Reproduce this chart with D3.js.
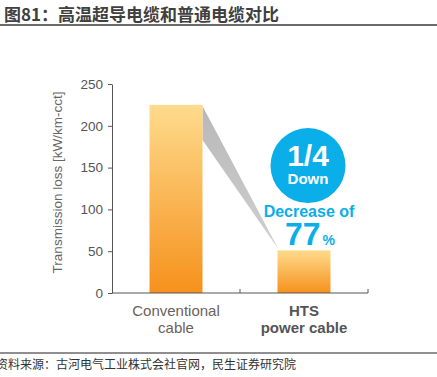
<!DOCTYPE html>
<html>
<head>
<meta charset="utf-8">
<script src="https://cdn.jsdelivr.net/npm/d3@7"></script>
<style>
  body { margin: 0; background: #fff; }
  svg { display: block; font-family: "Liberation Sans", Arial, sans-serif; }
</style>
</head>
<body>
<div id="chart"></div>
<script>
// chart data
const categories = ['Conventional\ncable', 'HTS\npower cable'];
const losses = [225, 51];
const yTicks = [0, 50, 100, 150, 200, 250];
const titleText = '图81：高温超导电缆和普通电缆对比';
const sourceText = '资料来源：古河电气工业株式会社官网，民生证券研究院';
const yLabel = 'Transmission loss [kW/km-cct]';
const ratioText = '1/4';
const downText = 'Down';
const decreaseText = 'Decrease of';
const pctValue = '77';

const width = 437, height = 377;
const margin = {top: 84, right: 69, bottom: 84, left: 112};

const svg = d3.select('#chart').append('svg')
    .attr('width', width)
    .attr('height', height);

// title + rule
svg.append('text')
    .attr('x', 4).attr('y', 21)
    .attr('font-family', '"Noto Sans CJK SC", sans-serif')
    .attr('font-size', 17).attr('font-weight', 'bold')
    .attr('fill', '#404040')
    .text(titleText);
svg.append('line')
    .attr('x1', 0).attr('x2', width).attr('y1', 25).attr('y2', 25)
    .attr('stroke', '#6a6a6a').attr('stroke-width', 2);

// footer
svg.append('line')
    .attr('x1', 0).attr('x2', width).attr('y1', 353).attr('y2', 353)
    .attr('stroke', '#6a6a6a').attr('stroke-width', 1.5);
svg.append('text')
    .attr('x', -4).attr('y', 369)
    .attr('font-family', '"Noto Sans CJK SC", sans-serif')
    .attr('font-size', 12).attr('fill', '#333')
    .text(sourceText);

const innerW = width - margin.left - margin.right;
const innerH = height - margin.top - margin.bottom;

const x = d3.scaleBand()
    .domain(categories)
    .range([0, innerW])
    .paddingInner(0.586)
    .paddingOuter(0.293);

const y = d3.scaleLinear().domain([0, 250]).range([innerH, 0]);

const g = svg.append('g')
    .attr('transform', `translate(${margin.left},${margin.top})`);

// gradient for bars
const defs = svg.append('defs');
const grad = defs.append('linearGradient')
    .attr('id', 'bar-grad')
    .attr('x1', 0).attr('y1', 0).attr('x2', 0).attr('y2', 1);
grad.append('stop').attr('offset', '0%').attr('stop-color', '#fedb8d');
grad.append('stop').attr('offset', '100%').attr('stop-color', '#f6911c');

const shadowGrad = defs.append('linearGradient')
    .attr('id', 'shadow-grad')
    .attr('x1', 0).attr('y1', 0).attr('x2', 0).attr('y2', 1);
shadowGrad.append('stop').attr('offset', '0%').attr('stop-color', '#b8b8b8');
shadowGrad.append('stop').attr('offset', '100%').attr('stop-color', '#cfcfcf');

// grey shadow connecting the two bars
const x0 = x(categories[0]) + x.bandwidth();
const x1 = x(categories[1]);
g.append('path')
    .attr('d', `M${x0},${y(losses[0]) + 1}L${x0},${y(losses[0]) + 35}L${x1 + 1},${y(losses[1]) - 1}Z`)
    .attr('fill', 'url(#shadow-grad)');

// bars
g.selectAll('.bar')
    .data(losses)
  .join('rect')
    .attr('class', 'bar')
    .attr('x', (d, i) => x(categories[i]))
    .attr('y', d => y(d))
    .attr('width', x.bandwidth())
    .attr('height', d => innerH - y(d))
    .attr('fill', 'url(#bar-grad)');

// y axis
const yAxis = g.append('g')
    .call(d3.axisLeft(y).tickValues(yTicks).tickSize(4).tickSizeOuter(0));
yAxis.select('.domain').attr('stroke', '#555');
yAxis.selectAll('.tick line').attr('stroke', '#555');
yAxis.selectAll('.tick text')
    .attr('font-size', 13.5).attr('fill', '#555')
    .attr('x', -9);

// x axis: ticks on band boundaries pointing up
const xAxis = g.append('g').attr('transform', `translate(0,${innerH})`);
xAxis.append('line')
    .attr('x1', 0).attr('x2', innerW)
    .attr('stroke', '#555');
xAxis.selectAll('.xtick')
    .data(categories)
  .join('line')
    .attr('class', 'xtick')
    .attr('x1', d => x(d) + x.bandwidth() + x.step() * x.paddingInner() / 2)
    .attr('x2', d => x(d) + x.bandwidth() + x.step() * x.paddingInner() / 2)
    .attr('y1', 0).attr('y2', -4)
    .attr('stroke', '#555');

// x labels
xAxis.selectAll('.xlabel')
    .data(categories)
  .join('text')
    .attr('class', 'xlabel')
    .attr('text-anchor', 'middle')
    .attr('font-size', 15)
    .attr('font-weight', (d, i) => i === 1 ? 'bold' : 'normal')
    .attr('fill', (d, i) => i === 1 ? '#555' : '#6b6259')
    .each(function(d) {
      const cx = x(d) + x.bandwidth() / 2;
      d3.select(this).selectAll('tspan')
          .data(d.split('\n'))
        .join('tspan')
          .attr('x', cx)
          .attr('y', (t, j) => 23 + j * 17)
          .text(t => t);
    });

// y axis title
svg.append('text')
    .attr('transform', `translate(62,${margin.top + innerH / 2 - 6}) rotate(-90)`)
    .attr('text-anchor', 'middle')
    .attr('font-size', 13.5)
    .attr('fill', '#666')
    .text(yLabel);

// annotation badge
const cx = x(categories[1]) + x.bandwidth() / 2 + 4;
const blue = '#0aaee9';
g.append('circle')
    .attr('cx', cx).attr('cy', y(150) - 2)
    .attr('r', 37.5)
    .attr('fill', blue);
g.append('text')
    .attr('x', cx).attr('y', y(150) - 2)
    .attr('text-anchor', 'middle')
    .attr('font-size', 30).attr('font-weight', 'bold')
    .attr('fill', '#fff')
    .text(ratioText);
g.append('text')
    .attr('x', cx).attr('y', y(150) + 16)
    .attr('text-anchor', 'middle')
    .attr('font-size', 15).attr('font-weight', 'bold')
    .attr('fill', '#fff')
    .text(downText);
g.append('text')
    .attr('x', cx + 1).attr('y', y(150) + 49)
    .attr('text-anchor', 'middle')
    .attr('font-size', 16).attr('font-weight', 'bold')
    .attr('fill', blue)
    .text(decreaseText);
const pct = g.append('text')
    .attr('x', cx + 2).attr('y', y(150) + 77)
    .attr('text-anchor', 'middle')
    .attr('font-weight', 'bold')
    .attr('fill', blue);
pct.append('tspan').attr('font-size', 32).text(pctValue);
pct.append('tspan').attr('font-size', 14).attr('dx', 2).text('%');
</script>
</body>
</html>
